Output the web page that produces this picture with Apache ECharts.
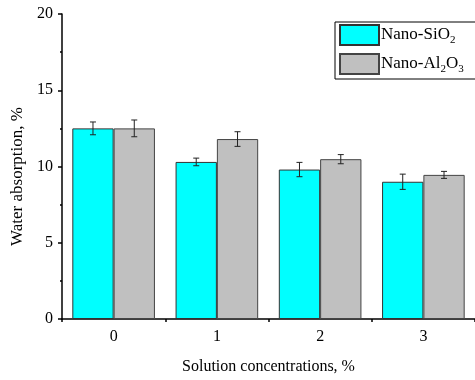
<!DOCTYPE html>
<html>
<head>
<meta charset="utf-8">
<script src="https://cdn.jsdelivr.net/npm/echarts@6/dist/echarts.min.js"></script>
<style>html,body{margin:0;padding:0;background:#fff}#c{width:475px;height:380px}</style>
</head>
<body>
<div id="c"></div>
<script>
var categories = ['0', '1', '2', '3'];
var sio2 = [12.5, 10.3, 9.8, 9.0];
var sio2Err = [0.42, 0.25, 0.47, 0.5];
var al2o3 = [12.5, 11.8, 10.48, 9.45];
var al2o3Err = [0.55, 0.48, 0.3, 0.23];
var yTicks = [0, 5, 10, 15, 20];

var FONT = '"Liberation Serif", "Times New Roman", serif';
var chart = echarts.init(document.getElementById('c'), null, {renderer: 'canvas'});

function errData(vals, errs) {
  return vals.map(function (v, i) { return [i, v - errs[i], v + errs[i]]; });
}
function errSeries(name, vals, errs, side) {
  return {
    type: 'custom',
    name: name + ' err',
    xAxisIndex: 0,
    yAxisIndex: 0,
    z: 5,
    silent: true,
    data: errData(vals, errs),
    renderItem: function (params, api) {
      var band = api.size([1, 0])[0];
      var c = api.coord([api.value(0), 0]);
      var x = c[0] + side * band * 0.2;
      var lo = api.coord([api.value(0), api.value(1)])[1];
      var hi = api.coord([api.value(0), api.value(2)])[1];
      var hw = 3;
      var st = {stroke: '#222', lineWidth: 1};
      return {
        type: 'group',
        children: [
          {type: 'line', shape: {x1: x, y1: lo, x2: x, y2: hi}, style: st},
          {type: 'line', shape: {x1: x - hw, y1: lo, x2: x + hw, y2: lo}, style: st},
          {type: 'line', shape: {x1: x - hw, y1: hi, x2: x + hw, y2: hi}, style: st}
        ]
      };
    }
  };
}

var option = {
  animation: false,
  backgroundColor: '#fff',
  textStyle: {fontFamily: FONT, color: '#000'},
  grid: {left: 62, right: 0, top: 14, bottom: 60},
  legend: {
    orient: 'vertical',
    left: 335,
    top: 22,
    itemWidth: 39,
    itemHeight: 20,
    itemGap: 7,
    padding: [2, 30, 4, 4],
    borderColor: '#000',
    borderWidth: 1,
    borderRadius: 0,
    icon: 'rect',
    data: ['Nano-SiO2', 'Nano-Al2O3'],
    formatter: function (n) {
      if (n === 'Nano-SiO2') return 'Nano-SiO{s|2}';
      return 'Nano-Al{s|2}O{s|3}';
    },
    textStyle: {
      fontFamily: FONT, fontSize: 17, color: '#000',
      padding: [0, 0, 0, -3],
      rich: {s: {fontFamily: FONT, fontSize: 11, color: '#000', verticalAlign: 'bottom', padding: [10, 0, 0, 0]}}
    }
  },
  xAxis: [{
    type: 'category',
    data: categories,
    name: 'Solution concentrations, %',
    nameLocation: 'middle',
    nameGap: 40,
    nameTextStyle: {fontFamily: FONT, fontSize: 16, color: '#000'},
    axisLine: {lineStyle: {color: '#000', width: 1.5}},
    axisTick: {alignWithLabel: true, length: 5, lineStyle: {color: '#000', width: 1.5}},
    axisLabel: {fontFamily: FONT, fontSize: 16, color: '#000', margin: 10},
    splitLine: {show: false}
  }, {
    type: 'category',
    data: categories,
    position: 'bottom',
    gridIndex: 0,
    axisLine: {show: false},
    axisTick: {show: true, length: 3, lineStyle: {color: '#000', width: 1.5}},
    axisLabel: {show: false},
    splitLine: {show: false}
  }],
  yAxis: {
    type: 'value',
    min: 0,
    max: 20,
    interval: 5,
    name: 'Water absorption, %',
    nameLocation: 'middle',
    nameGap: 36,
    nameTextStyle: {fontFamily: FONT, fontSize: 17, color: '#000', padding: [0, 20, 0, 0]},
    axisLine: {show: true, lineStyle: {color: '#000', width: 1.5}},
    axisTick: {show: true, length: 4, lineStyle: {color: '#000', width: 1.5}},
    minorTick: {show: true, splitNumber: 2, length: 2, lineStyle: {color: '#000', width: 1.5}},
    axisLabel: {fontFamily: FONT, fontSize: 16, color: '#000', margin: 9,
      formatter: function (v) { return yTicks.indexOf(v) >= 0 ? String(v) : ''; }},
    splitLine: {show: false}
  },
  series: [{
    type: 'bar',
    name: 'Nano-SiO2',
    data: sio2,
    barGap: '0%',
    barCategoryGap: '20%',
    itemStyle: {color: '#00FFFF', borderColor: '#333', borderWidth: 1}
  }, {
    type: 'bar',
    name: 'Nano-Al2O3',
    data: al2o3,
    barGap: '0%',
    barCategoryGap: '20%',
    itemStyle: {color: '#C0C0C0', borderColor: '#444', borderWidth: 1}
  },
  errSeries('Nano-SiO2', sio2, sio2Err, -1),
  errSeries('Nano-Al2O3', al2o3, al2o3Err, 1)
  ]
};
chart.setOption(option);
</script>
</body>
</html>
